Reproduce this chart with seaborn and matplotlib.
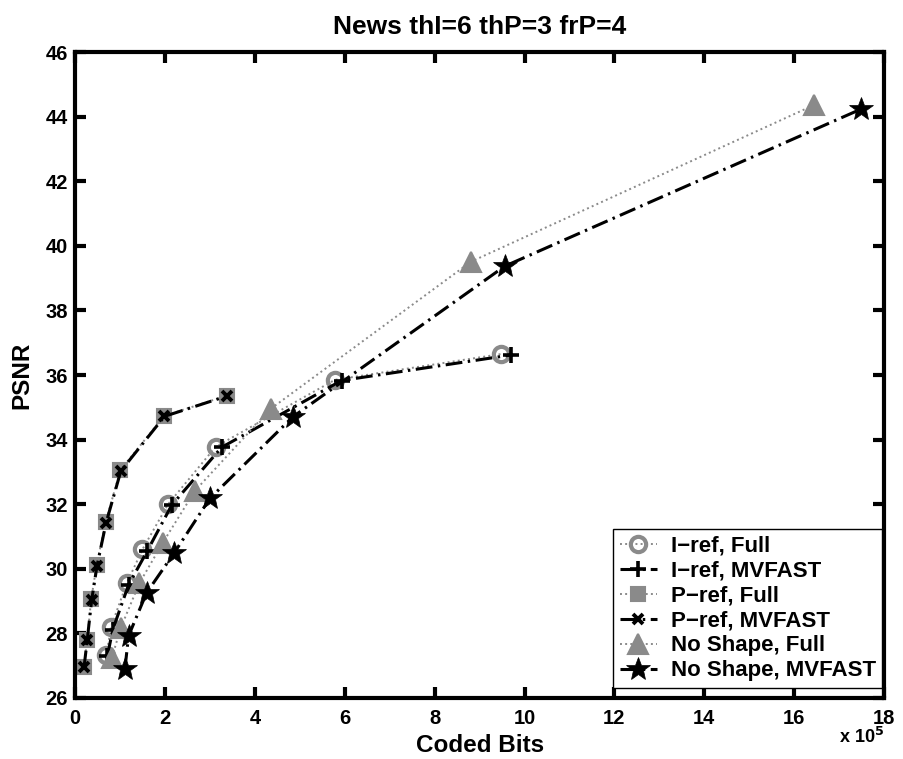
import matplotlib
matplotlib.use("Agg")
import matplotlib.pyplot as plt
import seaborn as sns
import pandas as pd

# Coded bits (x 10^5) and PSNR (dB) per configuration
iref_full_bits = [0.70, 0.80, 1.15, 1.50, 2.07, 3.13, 5.78, 9.48]
iref_full_psnr = [27.33, 28.20, 29.55, 30.60, 32.00, 33.78, 35.85, 36.65]

iref_fast_bits = [0.72, 0.84, 1.19, 1.61, 2.15, 3.26, 5.93, 9.70]
iref_fast_psnr = [27.30, 28.12, 29.50, 30.56, 31.97, 33.76, 35.83, 36.62]

pref_full_bits = [0.20, 0.27, 0.36, 0.48, 0.68, 1.01, 1.98, 3.37]
pref_full_psnr = [26.97, 27.80, 29.06, 30.12, 31.44, 33.06, 34.73, 35.36]

pref_fast_bits = [0.20, 0.27, 0.37, 0.49, 0.69, 1.02, 1.99, 3.38]
pref_fast_psnr = [26.95, 27.78, 29.03, 30.10, 31.42, 33.03, 34.72, 35.35]

noshape_full_bits = [0.82, 1.02, 1.43, 1.95, 2.67, 4.35, 8.81, 16.44]
noshape_full_psnr = [27.25, 28.18, 29.55, 30.80, 32.42, 34.95, 39.51, 44.36]

noshape_fast_bits = [1.11, 1.19, 1.59, 2.21, 3.00, 4.85, 9.56, 17.48]
noshape_fast_psnr = [26.90, 27.92, 29.25, 30.50, 32.18, 34.71, 39.37, 44.23]

labels = ["I\u2212ref, Full", "I\u2212ref, MVFAST", "P\u2212ref, Full",
          "P\u2212ref, MVFAST", "No Shape, Full", "No Shape, MVFAST"]

x_ticks = [0, 2, 4, 6, 8, 10, 12, 14, 16, 18]
y_ticks = [26, 28, 30, 32, 34, 36, 38, 40, 42, 44, 46]

sns.set_theme(style="white")
plt.rcParams["font.family"] = ["Liberation Sans", "DejaVu Sans"]
plt.rcParams["font.weight"] = "bold"
for key in ("text.color", "axes.labelcolor", "xtick.color", "ytick.color"):
    plt.rcParams[key] = "black"

GRAY = "#8a8a8a"
DASHDOT = (0, (5.5, 1.8, 0.8, 1.8))

fig = plt.figure(figsize=(9.04, 7.59), dpi=100)
ax = fig.add_axes([0.083, 0.0804, 0.895, 0.851])

# (x, y, label, colour, linestyle, marker, size, face, edge width, line width)
series = [
    (iref_full_bits, iref_full_psnr, labels[0], GRAY, ":", "o", 11, "none", 3.0, 1.4),
    (iref_fast_bits, iref_fast_psnr, labels[1], "black", DASHDOT, "+", 11, "black", 2.6, 2.2),
    (pref_full_bits, pref_full_psnr, labels[2], GRAY, ":", "s", 10, GRAY, 1.5, 1.4),
    (pref_fast_bits, pref_fast_psnr, labels[3], "black", DASHDOT, "x", 7, "black", 2.8, 2.2),
    (noshape_full_bits, noshape_full_psnr, labels[4], GRAY, ":", "^", 15, GRAY, 1.5, 1.4),
    (noshape_fast_bits, noshape_fast_psnr, labels[5], "black", DASHDOT, "*", 18, "black", 0.5, 2.2),
]

for xs, ys, lab, col, ls, mk, ms, mfc, mew, lw in series:
    df = pd.DataFrame({"bits": xs, "psnr": ys})
    sns.lineplot(data=df, x="bits", y="psnr", ax=ax, sort=False, color=col,
                 linestyle=ls, linewidth=lw, label=lab, estimator=None,
                 marker=mk, markersize=ms, markerfacecolor=mfc,
                 markeredgecolor=col, markeredgewidth=mew)

ax.set_xlim(0, 18)
ax.set_ylim(26, 46)
ax.set_xticks(x_ticks)
ax.set_yticks(y_ticks)
ax.set_xticklabels([str(t) for t in x_ticks], fontsize=14.5, fontweight="bold")
ax.set_yticklabels([str(t) for t in y_ticks], fontsize=14.5, fontweight="bold")
ax.tick_params(axis="x", direction="in", length=8, width=3, top=True,
               bottom=True, pad=8)
ax.tick_params(axis="y", direction="in", length=8, width=3, left=True,
               right=True, pad=5)
for s in ax.spines.values():
    s.set_linewidth(3)
    s.set_color("black")

ax.set_xlabel("Coded Bits", fontsize=17.5, fontweight="bold", labelpad=4)
ax.set_ylabel("PSNR", fontsize=17.5, fontweight="bold", labelpad=9)
ax.set_title("News thI=6 thP=3 frP=4", fontsize=19, fontweight="bold", pad=13)

ax.text(1.0, -0.0697, r"x 10$^{\mathbf{5}}$", transform=ax.transAxes,
        ha="right", va="baseline", fontsize=13, fontweight="bold")

leg = ax.legend(loc="lower right", bbox_to_anchor=(0.998, 0.0155), fontsize=16,
                frameon=True, fancybox=False, framealpha=1.0, handlelength=1.7,
                borderpad=0.3, labelspacing=0.18, handletextpad=0.6,
                borderaxespad=0.0)
leg.get_frame().set_edgecolor("black")
leg.get_frame().set_linewidth(1.0)
for t in leg.get_texts():
    t.set_fontweight("bold")

fig.savefig("out.png", dpi=100)
